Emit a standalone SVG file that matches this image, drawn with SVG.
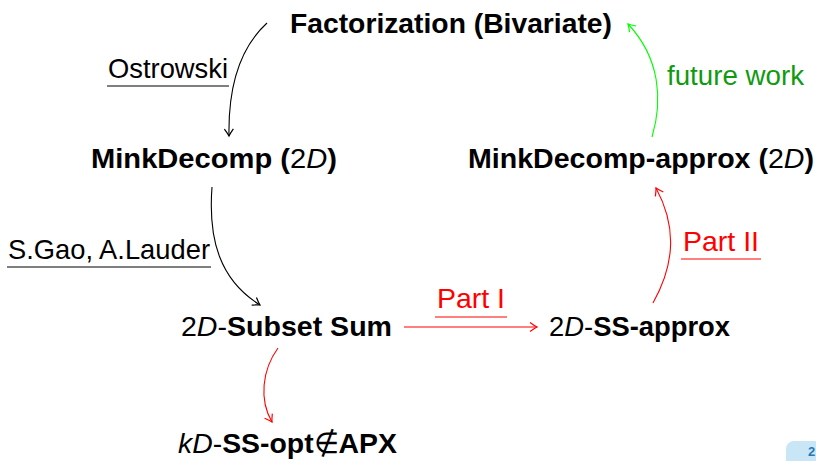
<svg xmlns="http://www.w3.org/2000/svg" width="816" height="461" viewBox="0 0 816 461">
<style>
text{font-family:"Liberation Sans",Arial,sans-serif;}
.n{font-size:28.5px;fill:#000;}
.b{font-weight:bold;}
.i{font-style:italic;}
.lab{font-size:27.5px;}
.red{fill:#ff0000;}
.grn{fill:#109a10;}
.c{fill:none;stroke-width:1.1;}
.ul{stroke-width:1.2;}
</style>
<defs>
<marker id="ak" markerUnits="userSpaceOnUse" markerWidth="12" markerHeight="12" refX="0" refY="0" viewBox="-8 -6 10 12" orient="auto" overflow="visible">
<path d="M-7,-4.5 Q-2.5,-1.2 0,0 Q-2.5,1.2 -7,4.5" fill="none" stroke="#000" stroke-width="1.2"/>
</marker>
<marker id="ar" markerUnits="userSpaceOnUse" markerWidth="12" markerHeight="12" refX="0" refY="0" viewBox="-8 -6 10 12" orient="auto" overflow="visible">
<path d="M-7,-4.5 Q-2.5,-1.2 0,0 Q-2.5,1.2 -7,4.5" fill="none" stroke="#ff0000" stroke-width="1.2"/>
</marker>
<marker id="ag" markerUnits="userSpaceOnUse" markerWidth="12" markerHeight="12" refX="0" refY="0" viewBox="-8 -6 10 12" orient="auto" overflow="visible">
<path d="M-7,-4.5 Q-2.5,-1.2 0,0 Q-2.5,1.2 -7,4.5" fill="none" stroke="#00ff00" stroke-width="1.2"/>
</marker>
</defs>
<rect width="816" height="461" fill="#fff"/>

<g id="connectors">
<path class="c" stroke="#000" d="M267,23 C243,45 228,80 229,136" marker-end="url(#ak)"/>
<path class="c" stroke="#000" d="M212,187 C208,240 220,280 260,305" marker-end="url(#ak)"/>
<path class="c" stroke="#ff0000" d="M404,327 L537,327" marker-end="url(#ar)"/>
<path class="c" stroke="#ff0000" d="M653,303 C676,262 676,225 656,188" marker-end="url(#ar)"/>
<path class="c" stroke="#ff0000" d="M278,348 C262,370 259,400 272,422" marker-end="url(#ar)"/>
<path class="c" stroke="#00ff00" d="M652,137 C663,100 660,58 628,24" marker-end="url(#ag)"/>
</g>

<g id="labels">
<text class="lab" x="108" y="78" textLength="120" lengthAdjust="spacingAndGlyphs">Ostrowski</text>
<line class="ul" x1="107" y1="86" x2="229" y2="86" stroke="#000"/>
<text class="lab" x="8" y="259" textLength="202" lengthAdjust="spacingAndGlyphs">S.Gao, A.Lauder</text>
<line class="ul" x1="7" y1="267" x2="211" y2="267" stroke="#000"/>
<text class="lab red" x="437" y="308" textLength="68" lengthAdjust="spacingAndGlyphs">Part I</text>
<line class="ul" x1="435" y1="317" x2="507" y2="317" stroke="#ff0000"/>
<text class="lab red" x="683" y="251" textLength="76" lengthAdjust="spacingAndGlyphs">Part II</text>
<line class="ul" x1="681" y1="259" x2="761" y2="259" stroke="#ff0000"/>
<text class="lab grn" x="667" y="85" textLength="137" lengthAdjust="spacingAndGlyphs">future work</text>
</g>

<g id="factorization"><text class="n b" x="290" y="33" textLength="322" lengthAdjust="spacingAndGlyphs">Factorization (Bivariate)</text></g>
<g id="minkdecomp"><text class="n" x="91" y="168" textLength="246" lengthAdjust="spacingAndGlyphs"><tspan class="b">MinkDecomp (</tspan>2<tspan class="i">D</tspan><tspan class="b">)</tspan></text></g>
<g id="minkdecomp-approx"><text class="n" x="468" y="168" textLength="346" lengthAdjust="spacingAndGlyphs"><tspan class="b">MinkDecomp-approx (</tspan>2<tspan class="i">D</tspan><tspan class="b">)</tspan></text></g>
<g id="subsetsum"><text class="n" x="181" y="336" textLength="211" lengthAdjust="spacingAndGlyphs">2<tspan class="i">D</tspan>-<tspan class="b">Subset Sum</tspan></text></g>
<g id="ss-approx"><text class="n" x="549" y="336" textLength="181" lengthAdjust="spacingAndGlyphs">2<tspan class="i">D</tspan>-<tspan class="b">SS-approx</tspan></text></g>
<g id="ss-opt"><text class="n" x="178" y="453" textLength="219" lengthAdjust="spacingAndGlyphs"><tspan class="i">kD</tspan>-<tspan class="b">SS-opt</tspan>∉<tspan class="b">APX</tspan></text></g>

<g id="pagenum">
<rect x="786" y="441" width="50" height="30" rx="8" fill="#c8e6f6"/>
<text x="808" y="456" font-size="13" font-weight="bold" fill="#2878b8">2</text>
</g>
</svg>
